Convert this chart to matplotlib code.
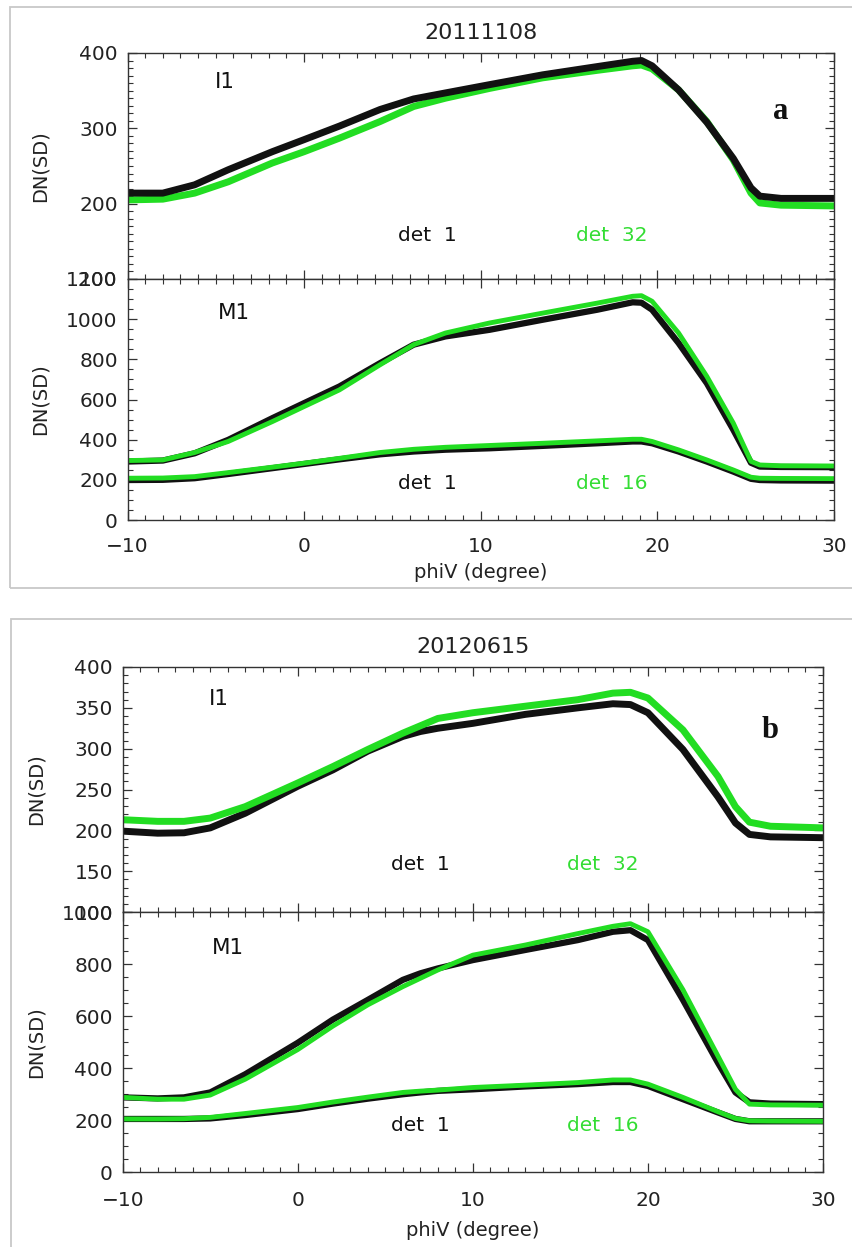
import matplotlib
matplotlib.use("Agg")
import matplotlib.pyplot as plt
from matplotlib.patches import Rectangle
from matplotlib.ticker import MultipleLocator

plt.rcParams['font.family'] = ['DejaVu Sans']

BLACK = '#111111'
GREEN = '#22dd22'
GREEN_TXT = '#33dd33'

# ---- 20111108 ----
phi_a = [-10, -8, -6.2, -4.3, -1.8, 0, 2, 4.3, 6.2, 8, 10.5, 13.5, 16.6, 18.6, 19.1,
         19.7, 21.2, 22.8, 24.3, 25.3, 25.8, 27, 30]
i1_det1_a = [214, 214, 225, 245, 269, 285, 303, 325, 339, 347, 358, 371, 382, 389, 390,
             383, 351, 308, 260, 221, 210, 207, 207]
i1_det32_a = [205, 206, 214, 229, 254, 269, 287, 309, 329, 340, 353, 367, 377, 383, 384,
              379, 351, 309, 258, 214, 201, 198, 197]
m1_det1_hi_a = [291, 296, 332, 399, 507, 582, 665, 781, 873, 914, 947, 997, 1047, 1084, 1082,
                1047, 881, 681, 449, 285, 266, 264, 263]
m1_det16_hi_a = [296, 299, 336, 391, 490, 565, 648, 773, 873, 931, 981, 1030, 1080, 1114, 1117,
                 1089, 931, 715, 482, 292, 274, 270, 269]
m1_det1_lo_a = [199, 200, 208, 229, 258, 279, 302, 327, 341, 350, 357, 369, 382, 391, 391,
                382, 341, 291, 241, 205, 199, 197, 196]
m1_det16_lo_a = [208, 209, 216, 236, 263, 283, 307, 336, 352, 362, 371, 382, 394, 402, 402,
                 391, 349, 299, 249, 213, 208, 207, 206]

# ---- 20120615 ----
phi_b = [-10, -8, -6.5, -5, -3, 0, 2, 4, 6, 7, 8, 10, 13, 16, 18, 19, 20, 22, 24, 25,
         25.8, 27, 30]
i1_det1_b = [199, 196.5, 197, 203, 221, 254, 274, 297, 315, 321, 325, 331, 342, 350, 355, 354,
             344, 299, 241, 209, 195, 192, 191]
i1_det32_b = [213, 211, 211, 215, 229, 258, 278, 299, 319, 328, 337, 344, 352, 360, 368, 369,
              362, 323, 266, 229, 210, 205, 203]
m1_det1_hi_b = [287, 283, 287, 306, 376, 497, 586, 662, 739, 764, 783, 815, 854, 892, 924, 930,
                892, 662, 420, 306, 268, 263, 261]
m1_det16_hi_b = [287, 280, 280, 296, 357, 471, 561, 643, 713, 745, 777, 834, 873, 917, 945, 955,
                 924, 701, 446, 318, 261, 258, 257]
m1_det1_lo_b = [204, 204, 204, 206, 219, 242, 263, 282, 299, 306, 312, 318, 329, 338, 346, 346,
                331, 280, 229, 204, 195, 195, 195]
m1_det16_lo_b = [204, 204, 205, 210, 225, 248, 269, 288, 306, 311, 315, 325, 334, 344, 354, 354,
                 338, 287, 232, 206, 197, 196, 195]

W, H = 852, 1247
fig = plt.figure(figsize=(W / 100, H / 100), dpi=100)


def box(x0, y0, x1, y1):
    # pixel box (top-left origin) -> figure fraction rect
    return [x0 / W, 1 - y1 / H, (x1 - x0) / W, (y1 - y0) / H]


def style(ax, ymaj, ymin, xpad):
    ax.set_xlim(-10, 30)
    ax.xaxis.set_major_locator(MultipleLocator(10))
    ax.xaxis.set_minor_locator(MultipleLocator(1))
    ax.yaxis.set_major_locator(MultipleLocator(ymaj))
    ax.yaxis.set_minor_locator(MultipleLocator(ymin))
    ax.tick_params(which='both', direction='in', top=True, right=True, colors='#333333',
                   labelcolor='#222222', labelsize=14.5)
    ax.tick_params(which='major', length=6.5, width=0.9)
    ax.tick_params(which='minor', length=3.5, width=0.8)
    ax.tick_params(axis='y', pad=7)
    ax.tick_params(axis='x', pad=xpad)
    for s in ax.spines.values():
        s.set_color('#333333')
        s.set_linewidth(1.0)
    ax.set_ylabel('DN(SD)', fontsize=14, color='#222222')


def panel(rect_top, rect_bot, title, letter, phi, i1k, i1g, mk_hi, mg_hi, mk_lo, mg_lo,
          i1_lim, i1_maj, m1_lim, m1_maj, xpad, label_y, black_on_top):
    ax1 = fig.add_axes(rect_top)
    ax2 = fig.add_axes(rect_bot, sharex=ax1)
    if black_on_top:
        ax1.plot(phi, i1g, color=GREEN, lw=5, solid_capstyle='butt')
        ax1.plot(phi, i1k, color=BLACK, lw=5, solid_capstyle='butt')
    else:
        ax1.plot(phi, i1k, color=BLACK, lw=5, solid_capstyle='butt')
        ax1.plot(phi, i1g, color=GREEN, lw=5, solid_capstyle='butt')
    ax2.plot(phi, mk_hi, color=BLACK, lw=4.5, solid_capstyle='butt')
    ax2.plot(phi, mg_hi, color=GREEN, lw=3.5, solid_capstyle='butt')
    ax2.plot(phi, mk_lo, color=BLACK, lw=4.5, solid_capstyle='butt')
    ax2.plot(phi, mg_lo, color=GREEN, lw=3.5, solid_capstyle='butt')

    ax1.set_ylim(*i1_lim)
    ax2.set_ylim(*m1_lim)
    style(ax1, i1_maj, 10, xpad)
    style(ax2, m1_maj, 50, xpad)
    plt.setp(ax1.get_xticklabels(), visible=False)
    ax1.yaxis.set_label_coords(-0.11, 0.5)
    ax2.yaxis.set_label_coords(-0.11, 0.5)
    ax2.set_xlabel('phiV (degree)', fontsize=14, color='#222222')
    ax2.xaxis.set_label_coords(0.5, label_y)

    ax1.set_title(title, fontsize=16, color='#222222', pad=10)
    ax1.text(-4.5, i1_lim[0] + 0.87 * (i1_lim[1] - i1_lim[0]), 'I1', fontsize=15.5,
             ha='center', va='center', color='#111111')
    ax1.text(27.0, i1_lim[0] + 0.74 * (i1_lim[1] - i1_lim[0]), letter, fontsize=22,
             family='Liberation Serif', weight='bold', ha='center', va='center', color='#111111')
    ax1.text(7.0, 158, 'det  1', fontsize=14.5, ha='center', va='center', color='#111111')
    ax1.text(17.4, 158, 'det  32', fontsize=14.5, ha='center', va='center', color=GREEN_TXT)
    ax2.text(-4.0, m1_lim[1] * 0.86, 'M1', fontsize=15.5, ha='center', va='center',
             color='#111111')
    ax2.text(7.0, 180, 'det  1', fontsize=14.5, ha='center', va='center', color='#111111')
    ax2.text(17.4, 180, 'det  16', fontsize=14.5, ha='center', va='center', color=GREEN_TXT)
    return ax1, ax2


panel(box(127.5, 53, 834, 279), box(127.5, 279, 834, 520), '20111108', 'a', phi_a,
      i1_det1_a, i1_det32_a, m1_det1_hi_a, m1_det16_hi_a, m1_det1_lo_a, m1_det16_lo_a,
      (100, 400), 100, (0, 1200), 200, 12, -0.178, True)
panel(box(122.7, 667, 823, 912), box(122.7, 912, 823, 1172), '20120615', 'b', phi_b,
      i1_det1_b, i1_det32_b, m1_det1_hi_b, m1_det16_hi_b, m1_det1_lo_b, m1_det16_lo_b,
      (100, 400), 50, (0, 1000), 200, 14, -0.19, False)

# light frames round each panel
for x0, y0, x1, y1 in [(9.5, 7, 880, 588), (10.5, 619, 880, 1280)]:
    fig.patches.append(Rectangle((x0 / W, 1 - y1 / H), (x1 - x0) / W, (y1 - y0) / H,
                                 transform=fig.transFigure, fill=False,
                                 edgecolor='#c8c8c8', linewidth=1.3))

fig.savefig('out.png', dpi=100)
